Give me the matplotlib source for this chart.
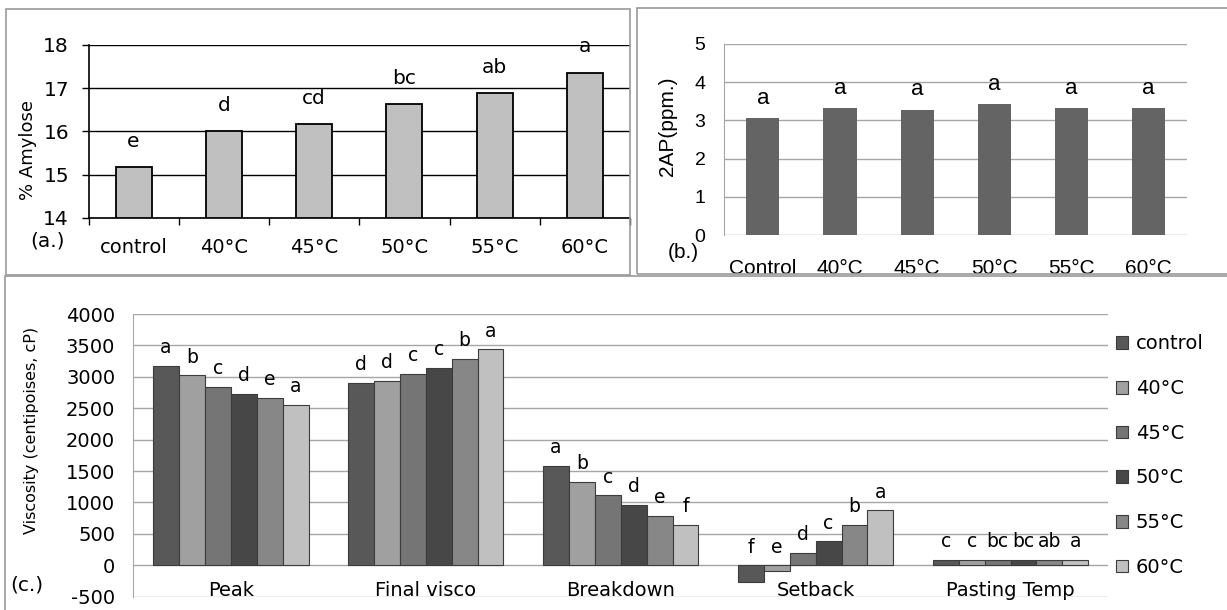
import matplotlib
matplotlib.use("Agg")
import matplotlib.pyplot as plt
from matplotlib.patches import Rectangle, Patch
import numpy as np

plt.rcParams["font.family"] = ["DejaVu Sans"]
plt.rcParams["axes.unicode_minus"] = False

# (a.) amylose
amy_labels = ["control", "40°C", "45°C", "50°C", "55°C", "60°C"]
amy_values = [15.17, 16.0, 16.16, 16.63, 16.88, 17.36]
amy_letters = ["e", "d", "cd", "bc", "ab", "a"]

# (b.) 2AP
ap_labels = ["Control", "40°C", "45°C", "50°C", "55°C", "60°C"]
ap_values = [3.05, 3.32, 3.27, 3.42, 3.32, 3.32]
ap_letters = ["a", "a", "a", "a", "a", "a"]

# (c.) pasting properties
visc_groups = ["Peak", "Final visco", "Breakdown", "Setback", "Pasting Temp"]
visc_series = ["control", "40°C", "45°C", "50°C", "55°C", "60°C"]
visc_values = {
    "control": [3173, 2909, 1584, -265, 85],
    "40°C": [3025, 2935, 1325, -90, 85],
    "45°C": [2845, 3052, 1113, 201, 85],
    "50°C": [2728, 3142, 964, 381, 85],
    "55°C": [2670, 3285, 789, 646, 85],
    "60°C": [2554, 3438, 641, 879, 85],
}
visc_letters = {
    "control": ["a", "d", "a", "f", "c"],
    "40°C": ["b", "d", "b", "e", "c"],
    "45°C": ["c", "c", "c", "d", "bc"],
    "50°C": ["d", "c", "d", "c", "bc"],
    "55°C": ["e", "b", "e", "b", "ab"],
    "60°C": ["a", "a", "f", "a", "a"],
}
visc_colors = ["#585858", "#a0a0a0", "#757575", "#474747", "#878787", "#c0c0c0"]

W, H = 1227, 610
fig = plt.figure(figsize=(W / 100, H / 100), dpi=100)


def px_axes(left, top, right, bottom):
    return fig.add_axes([left / W, 1 - bottom / H, (right - left) / W, (bottom - top) / H])


def px_box(left, top, right, bottom):
    fig.patches.append(Rectangle((left / W, 1 - bottom / H), (right - left) / W, (bottom - top) / H,
                                 transform=fig.transFigure, fill=False, edgecolor="#9a9a9a",
                                 linewidth=1.2))


def px_text(x, y, s, **kw):
    fig.text(x / W, 1 - y / H, s, ha="center", va="center", **kw)


# panel frames
px_box(6, 9, 630, 275)
px_box(637, 8, 1230, 274)
px_box(5, 276, 1230, 612)

# ---- (a.) ----
ax = px_axes(88.5, 45, 630, 217.7)
x = np.arange(len(amy_values))
ax.bar(x, np.array(amy_values) - 14, bottom=14, width=0.4, color="#c0c0c0",
       edgecolor="black", linewidth=1.3, zorder=3)
for xi, v, t in zip(x, amy_values, amy_letters):
    ax.annotate(t, (xi, v), xytext=(0, 18.5), textcoords="offset points", ha="center",
                va="center", fontsize=14.5)
ax.set_xlim(-0.5, 5.5)
ax.set_ylim(14, 18)
ax.set_yticks([14, 15, 16, 17, 18])
ax.set_xticks(x)
ax.set_xticklabels(amy_labels, fontsize=14)
ax.set_xticks(np.arange(-0.5, 6, 1), minor=True)
ax.tick_params(axis="x", which="major", length=0, pad=14.5)
ax.tick_params(axis="x", which="minor", length=5, direction="out", width=1)
ax.tick_params(axis="y", labelsize=14.5, length=5, pad=9, width=1)
ax.yaxis.grid(True, color="black", linewidth=1)
for s in ["top", "right"]:
    ax.spines[s].set_visible(False)
ax.spines["left"].set_linewidth(1.2)
ax.spines["bottom"].set_linewidth(1.2)
px_text(28, 150, "% Amylose", fontsize=13, rotation=90)
px_text(47.5, 241, "(a.)", fontsize=14.5)

# ---- (b.) ----
bx = px_axes(724.3, 44, 1187, 235)
x = np.arange(len(ap_values))
bx.bar(x, ap_values, width=0.43, color="#646464", zorder=3)
for xi, v, t in zip(x, ap_values, ap_letters):
    bx.annotate(t, (xi, v), xytext=(0, 14.5), textcoords="offset points", ha="center",
                va="center", fontsize=16, family="Liberation Sans")
bx.set_xlim(-0.5, 5.5)
bx.set_ylim(0, 5)
bx.set_yticks(range(6))
bx.set_xticks(x)
bx.set_xticklabels(ap_labels, fontsize=15, family="Liberation Sans")
bx.set_yticklabels([str(v) for v in range(6)], fontsize=14, family="Liberation Sans")
bx.tick_params(axis="x", length=0, pad=17.5)
bx.tick_params(axis="y", length=0, pad=13.5)
bx.yaxis.grid(True, color="#a6a6a6", linewidth=1)
for s in ["top", "right", "bottom"]:
    bx.spines[s].set_visible(False)
bx.spines["left"].set_color("#a6a6a6")
px_text(668, 126, "2AP(ppm.)", fontsize=15, rotation=90, family="Liberation Sans")
px_text(683, 253, "(b.)", fontsize=15, family="Liberation Sans")

# ---- (c.) ----
cx = px_axes(133.3, 314, 1108, 596.7)
g = np.arange(len(visc_groups))
bw = 0.133
n = len(visc_series)
for i, name in enumerate(visc_series):
    pos = g + (i - (n - 1) / 2) * bw
    vals = visc_values[name]
    cx.bar(pos, vals, width=bw, color=visc_colors[i], edgecolor="#3c3c3c", linewidth=0.8,
           zorder=3, label=name)
    for p, v, t in zip(pos, vals, visc_letters[name]):
        cx.annotate(t, (p, max(v, 0)), xytext=(0, 13), textcoords="offset points",
                    ha="center", va="center", fontsize=13.5)
cx.set_xlim(-0.5, 4.5)
cx.set_ylim(-500, 4000)
cx.set_yticks(range(-500, 4001, 500))
cx.set_xticks(g)
cx.set_xticklabels(visc_groups, fontsize=14)
cx.tick_params(axis="x", length=0, pad=-11.5)
cx.tick_params(axis="y", length=0, labelsize=14, pad=13)
cx.yaxis.grid(True, color="#a6a6a6", linewidth=1)
for s in ["top", "right", "bottom"]:
    cx.spines[s].set_visible(False)
cx.spines["left"].set_color("#a6a6a6")
px_text(31.7, 430, "Viscosity (centipoises, cP)", fontsize=11.5, rotation=90)
handles = [Patch(facecolor=c, edgecolor="#3c3c3c", linewidth=0.8) for c in visc_colors]
cx.legend(handles, visc_series, loc="center left", bbox_to_anchor=(1.0, 0.499), frameon=False,
          fontsize=14, handlelength=0.62, handleheight=0.62, handletextpad=0.41,
          labelspacing=1.32, borderaxespad=0.0, borderpad=0.4)
px_text(27, 585, "(c.)", fontsize=14.5)

fig.savefig("out.png", dpi=100)
